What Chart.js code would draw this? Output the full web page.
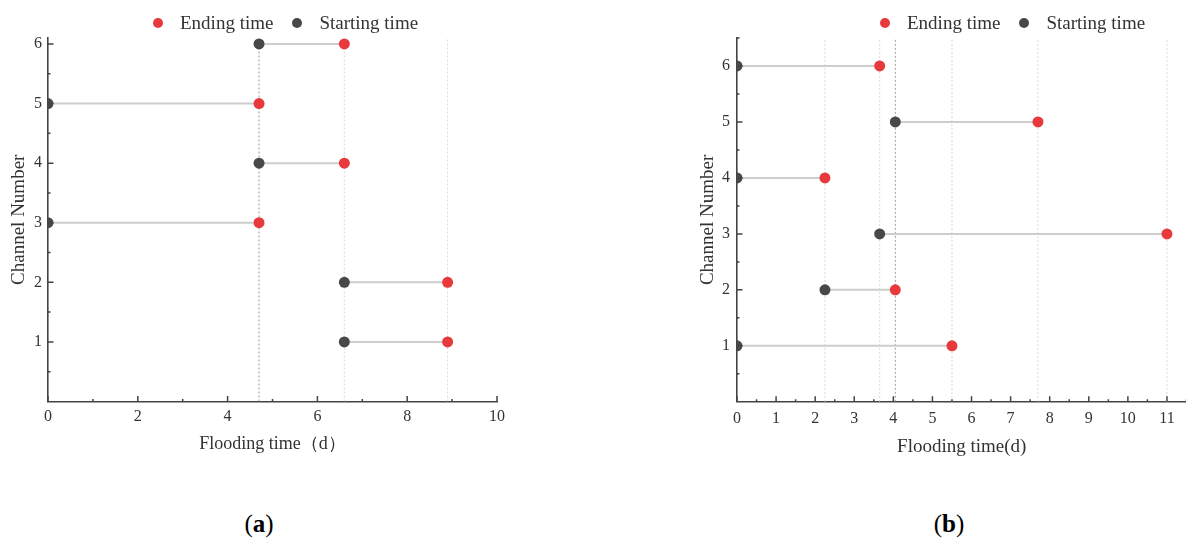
<!DOCTYPE html>
<html><head><meta charset="utf-8">
<script src="https://cdn.jsdelivr.net/npm/chart.js@4.4.1/dist/chart.umd.min.js"></script>
<style>
html,body{margin:0;padding:0;background:#fff;overflow:hidden;}
#wrap{position:relative;width:1186px;height:541px;overflow:hidden;background:#fff;}
canvas{position:absolute;top:0;}
#cA{left:0;} #cB{left:690px;}
.legend{position:absolute;display:flex;align-items:center;font-family:"Liberation Serif",serif;font-size:19px;color:#333;white-space:nowrap;height:24px;}
.legend .item{display:flex;align-items:center;margin-right:19px;}
.legend .dot{width:10px;height:10px;border-radius:50%;margin-right:17px;}
.caption{position:absolute;font-family:"Liberation Serif",serif;font-size:25px;color:#000;transform:translateX(-50%);white-space:nowrap;}
</style></head><body>
<div id="wrap">
<canvas id="cA" width="520" height="460"></canvas>
<canvas id="cB" width="502" height="460"></canvas>
<div id="legA" class="legend" style="left:153px;top:11px"></div>
<div id="legB" class="legend" style="left:880px;top:11px"></div>
<div class="caption" style="left:259px;top:510px">(<b>a</b>)</div>
<div class="caption" style="left:949px;top:510px">(<b>b</b>)</div>
</div>
<script>
// ---------- data ----------
const channels = [1, 2, 3, 4, 5, 6];
const seriesNames = ['Ending time', 'Starting time'];
// chart (a)
const A_start = [6.6, 6.6, 0, 4.7, 0, 4.7];
const A_end   = [8.9, 8.9, 4.7, 6.6, 4.7, 6.6];
// chart (b)
const B_start = [0, 2.25, 3.65, 0, 4.05, 0];
const B_end   = [5.5, 4.05, 11, 2.25, 7.7, 3.65];
// tick values / labels
const A_xTicks = [0, 2, 4, 6, 8, 10];
const A_xMinor = [1, 3, 5, 7, 9];
const A_yTicks = [1, 2, 3, 4, 5, 6];
const A_yMinor = [0.5, 1.5, 2.5, 3.5, 4.5, 5.5];
const B_xTicks = [0, 1, 2, 3, 4, 5, 6, 7, 8, 9, 10, 11];
const B_xMinor = [0.5, 1.5, 2.5, 3.5, 4.5, 5.5, 6.5, 7.5, 8.5, 9.5, 10.5, 11.5];
const B_yTicks = [1, 2, 3, 4, 5, 6];
const B_yMinor = [0.5, 1.5, 2.5, 3.5, 4.5, 5.5, 6.5];
const A_xTitle = 'Flooding time（d）';
const B_xTitle = 'Flooding time(d)';
const yTitle = 'Channel Number';

// ---------- styles ----------
const RED = '#e8393c';
const GRAY = '#484848';
const AXIS = '#444';
const SERIF = '"Liberation Serif", "Times New Roman", serif';

function ticksPlugin(xMajor, xMinor, yMajor, yMinor) {
  return {
    id: 'innerTicks',
    afterDatasetsDraw(chart) {
      const {ctx, chartArea} = chart;
      const xs = chart.scales.x, ys = chart.scales.y;
      ctx.save();
      ctx.strokeStyle = AXIS;
      ctx.lineWidth = 1.5;
      ctx.beginPath();
      const xt = (v, len) => { const p = xs.getPixelForValue(v); ctx.moveTo(p, chartArea.bottom); ctx.lineTo(p, chartArea.bottom - len); };
      const yt = (v, len) => { const p = ys.getPixelForValue(v); ctx.moveTo(chartArea.left, p); ctx.lineTo(chartArea.left + len, p); };
      xMajor.forEach(v => xt(v, 5.5));
      xMinor.forEach(v => xt(v, 2.5));
      yMajor.forEach(v => yt(v, 5.5));
      yMinor.forEach(v => yt(v, 2.5));
      ctx.stroke();
      ctx.restore();
    }
  };
}

function build(id, legId, start, end, c) {
  const ends = channels.map((ch, i) => ({x: end[i], y: ch}));
  const starts = channels.map((ch, i) => ({x: start[i], y: ch}));
  const clip = {left: 0, top: false, right: false, bottom: false};
  const datasets = [
    {label: seriesNames[0], data: ends, backgroundColor: RED, borderColor: RED, pointRadius: 5.5, pointHoverRadius: 5.5, borderWidth: 0, order: 0, clip},
    {label: seriesNames[1], data: starts, backgroundColor: GRAY, borderColor: GRAY, pointRadius: 5.5, pointHoverRadius: 5.5, borderWidth: 0, order: 0, clip}
  ];
  channels.forEach((ch, i) => datasets.push({
    label: '', data: [starts[i], ends[i]], showLine: true, borderColor: '#cdcdcd', borderWidth: 2,
    pointRadius: 0, pointHoverRadius: 0, order: 1
  }));
  const refVals = [...new Set([...start, ...end])].filter(v => v !== c.xMin).sort((a, b) => a - b);
  refVals.forEach(v => datasets.push({
    label: '', data: [{x: v, y: c.yMin}, {x: v, y: c.yMax}], showLine: true,
    borderColor: v === c.emph ? '#9a9a9a' : '#d8d8d8', borderWidth: 1, borderDash: [2, 2],
    pointRadius: 0, pointHoverRadius: 0, order: 2
  }));

  const chart = new Chart(document.getElementById(id), {
    type: 'scatter',
    data: {datasets},
    plugins: [ticksPlugin(c.xTicks, c.xMinor, c.yTicks, c.yMinor)],
    options: {
      responsive: false,
      animation: false,
      devicePixelRatio: 1,
      layout: {padding: c.padding},
      plugins: {legend: {display: false}, tooltip: {enabled: false}},
      scales: {
        x: {
          type: 'linear', min: c.xMin, max: c.xMax,
          afterBuildTicks: s => { s.ticks = c.xTicks.map(v => ({value: v})); },
          afterFit: s => { s.height = c.xAxisH; },
          grid: {display: false, drawTicks: false},
          border: {display: true, color: AXIS, width: 1.6},
          ticks: {padding: c.xPad, color: '#333', font: {family: SERIF, size: 16}, maxRotation: 0, autoSkip: false},
          title: {display: true, text: c.xTitle, color: '#333', font: {family: SERIF, size: c.xTitleSize}, padding: {top: 0, bottom: c.xTitlePadB}}
        },
        y: {
          type: 'linear', min: c.yMin, max: c.yMax,
          afterBuildTicks: s => { s.ticks = c.yTicks.map(v => ({value: v})); },
          afterFit: s => { s.width = c.yAxisW; },
          grid: {display: false, drawTicks: false},
          border: {display: true, color: AXIS, width: 1.6},
          ticks: {padding: c.yPad, color: '#333', font: {family: SERIF, size: 16}, autoSkip: false},
          title: {display: true, text: yTitle, color: '#333', font: {family: SERIF, size: 19}, padding: {top: c.yTitlePadT, bottom: 0}}
        }
      }
    }
  });

  // HTML legend generated from the chart's own series
  const leg = document.getElementById(legId);
  chart.data.datasets.filter(d => d.label).forEach(d => {
    const item = document.createElement('div');
    item.className = 'item';
    const dot = document.createElement('span');
    dot.className = 'dot';
    dot.style.background = d.backgroundColor;
    const txt = document.createElement('span');
    txt.textContent = d.label;
    item.appendChild(dot); item.appendChild(txt);
    leg.appendChild(item);
  });
  return chart;
}

build('cA', 'legA', A_start, A_end, {
  xMin: 0, xMax: 10, yMin: 0, yMax: 6.1, emph: 4.7,
  xTicks: A_xTicks, xMinor: A_xMinor, yTicks: A_yTicks, yMinor: A_yMinor,
  padding: {top: 38, left: 0, right: 23, bottom: 0},
  xAxisH: 58.5, yAxisW: 48, xPad: 6, yPad: 6,
  xTitle: A_xTitle, xTitleSize: 18, xTitlePadB: 5, yTitlePadT: 7.5
});
build('cB', 'legB', B_start, B_end, {
  xMin: 0, xMax: 11.5, yMin: 0, yMax: 6.5, emph: 4.05,
  xTicks: B_xTicks, xMinor: B_xMinor, yTicks: B_yTicks, yMinor: B_yMinor,
  padding: {top: 38, left: 0, right: 0, bottom: 0},
  xAxisH: 58.2, yAxisW: 47, xPad: 7, yPad: 7,
  xTitle: B_xTitle, xTitleSize: 19, xTitlePadB: 2, yTitlePadT: 7
});
</script>
</body></html>
